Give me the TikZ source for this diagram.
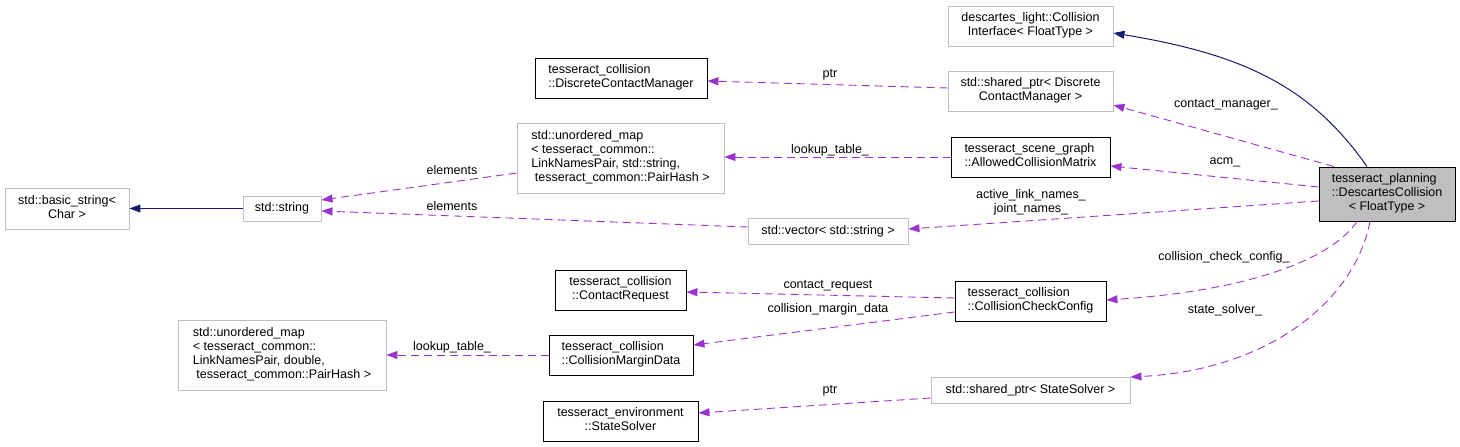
\documentclass[tikz,border=0pt]{standalone}
\usepackage{fontspec}
\setmainfont{Liberation Sans}
\usetikzlibrary{arrows.meta}
\definecolor{edgepurple}{HTML}{9A32CD}
\definecolor{edgenavy}{HTML}{191970}
\definecolor{boxgray}{HTML}{BFBFBF}
\definecolor{fillgray}{HTML}{BFBFBF}
\newcommand{\nf}{\fontsize{12.5}{14}\selectfont}
\newcommand{\Ll}[1]{\multicolumn{1}{@{}l@{}}{#1}}
\newcommand{\lns}[1]{\begin{tabular}{@{}c@{}}#1\end{tabular}}
\begin{document}
\begin{tikzpicture}[x=1pt,y=-1pt,
  base/.style={inner sep=0pt, line width=0.9pt, font=\nf},
  graybox/.style={base, draw=boxgray},
  blackbox/.style={base, draw=black},
  mainbox/.style={base, draw=black, fill=fillgray},
  sz/.style 2 args={minimum width=#1pt, minimum height=#2pt},
  lbl/.style={inner sep=0pt, font=\nf},
  dep/.style={draw=edgepurple, line width=0.9pt, dash pattern=on 8pt off 5pt,
    -{Triangle[length=11pt,width=8pt,fill=edgepurple]}},
  inh/.style={draw=edgenavy, line width=1pt,
    -{Triangle[length=11pt,width=8pt,fill=edgenavy]}}
]
\useasboundingbox (0,0) rectangle (1460,447);

% nodes
\node[graybox, sz={165}{40}] (CI) at (1030.5,26) {\lns{descartes\_light::Collision\\Interface< FloatType >}};
\node[graybox, sz={165}{40}] (SPD) at (1030.5,91) {\lns{std::shared\_ptr< Discrete\\ContactManager >}};
\node[blackbox, sz={159}{40}] (ACM) at (1030.5,157) {\lns{\Ll{tesseract\_scene\_graph}\\::AllowedCollisionMatrix}};
\node[mainbox, sz={136}{54}] (DC) at (1387,194) {\lns{\Ll{tesseract\_planning}\\\Ll{::DescartesCollision}\\< FloatType >}};
\node[graybox, sz={160}{26}] (VEC) at (828,231) {std::vector< std::string >};
\node[blackbox, sz={172}{40}] (DCM) at (621,78) {\lns{\Ll{tesseract\_collision}\\::DiscreteContactManager}};
\node[graybox, sz={207}{70}] (UMS) at (620.5,158) {\lns{\Ll{std::unordered\_map}\\\Ll{< tesseract\_common::}\\\Ll{LinkNamesPair, std::string,}\\\ tesseract\_common::PairHash >}};
\node[graybox, sz={78}{25}] (STR) at (282,208.5) {std::string};
\node[graybox, sz={124}{41}] (BS) at (67,208.5) {\lns{std::basic\_string<\\Char >}};
\node[blackbox, sz={131}{40}] (CR) at (620.5,290) {\lns{\Ll{tesseract\_collision}\\::ContactRequest}};
\node[blackbox, sz={144}{40}] (CMD) at (621,355) {\lns{\Ll{tesseract\_collision}\\::CollisionMarginData}};
\node[graybox, sz={208}{70}] (UMD) at (282,355) {\lns{\Ll{std::unordered\_map}\\\Ll{< tesseract\_common::}\\\Ll{LinkNamesPair, double,}\\\ tesseract\_common::PairHash >}};
\node[blackbox, sz={155}{40}] (SS) at (620.5,421) {\lns{\Ll{tesseract\_environment}\\::StateSolver}};
\node[blackbox, sz={151}{40}] (CCC) at (1030.5,301) {\lns{\Ll{tesseract\_collision}\\::CollisionCheckConfig}};
\node[graybox, sz={199}{26}] (SPS) at (1030.5,390) {std::shared\_ptr< StateSolver >};

% labels
\node[lbl] (Lcm) at (1226,105) {contact\_manager\_};
\node[lbl] (Lacm) at (1225,162) {acm\_};
\node[lbl] (Lnames) at (1031,202.5) {\lns{active\_link\_names\_\\joint\_names\_}};
\node[lbl] (Lccc) at (1224,257) {collision\_check\_config\_};
\node[lbl] (Lss) at (1225,310) {state\_solver\_};
\node[lbl] (Lptr1) at (830,75) {ptr};
\node[lbl] (Llt1) at (830,150) {lookup\_table\_};
\node[lbl] (Lel1) at (452,170) {elements};
\node[lbl] (Lel2) at (452,206) {elements};
\node[lbl] (Lcr) at (828,286) {contact\_request};
\node[lbl] (Lcmd) at (828,309) {collision\_margin\_data};
\node[lbl] (Llt2) at (452,347) {lookup\_table\_};
\node[lbl] (Lptr2) at (830,391) {ptr};

% connectors
\draw[inh] (1367,0 |- DC.north) .. controls (1310,85) and (1241,54) .. (CI.east |- 0,33);
\draw[dep] (1334,0 |- DC.north) -- (SPD.east |- 0,105);
\draw[dep] (DC.west |- 0,187) -- (ACM.east |- 0,166);
\draw[dep] (DC.west |- 0,201) -- (VEC.east |- 0,229);
\draw[dep] (1357,0 |- DC.south) .. controls (1335,255) and (1260,290) .. (CCC.east |- 0,300);
\draw[dep] (1370,0 |- DC.south) .. controls (1355,300) and (1270,370) .. (SPS.east |- 0,377);
\draw[dep] (SPD.west |- 0,88) -- (DCM.east |- 0,81);
\draw[dep] (ACM.west |- 0,157) -- (UMS.east |- 0,157);
\draw[dep] (UMS.west |- 0,173) -- (STR.east |- 0,200);
\draw[dep] (VEC.west |- 0,227) -- (STR.east |- 0,211);
\draw[inh] (STR.west) -- (BS.east);
\draw[dep] (CCC.west |- 0,298) -- (CR.east |- 0,292);
\draw[dep] (CCC.west |- 0,312) -- (CMD.east |- 0,345);
\draw[dep] (CMD.west |- 0,355) -- (UMD.east |- 0,355);
\draw[dep] (SPS.west |- 0,398) -- (SS.east |- 0,413);
\end{tikzpicture}
\end{document}
